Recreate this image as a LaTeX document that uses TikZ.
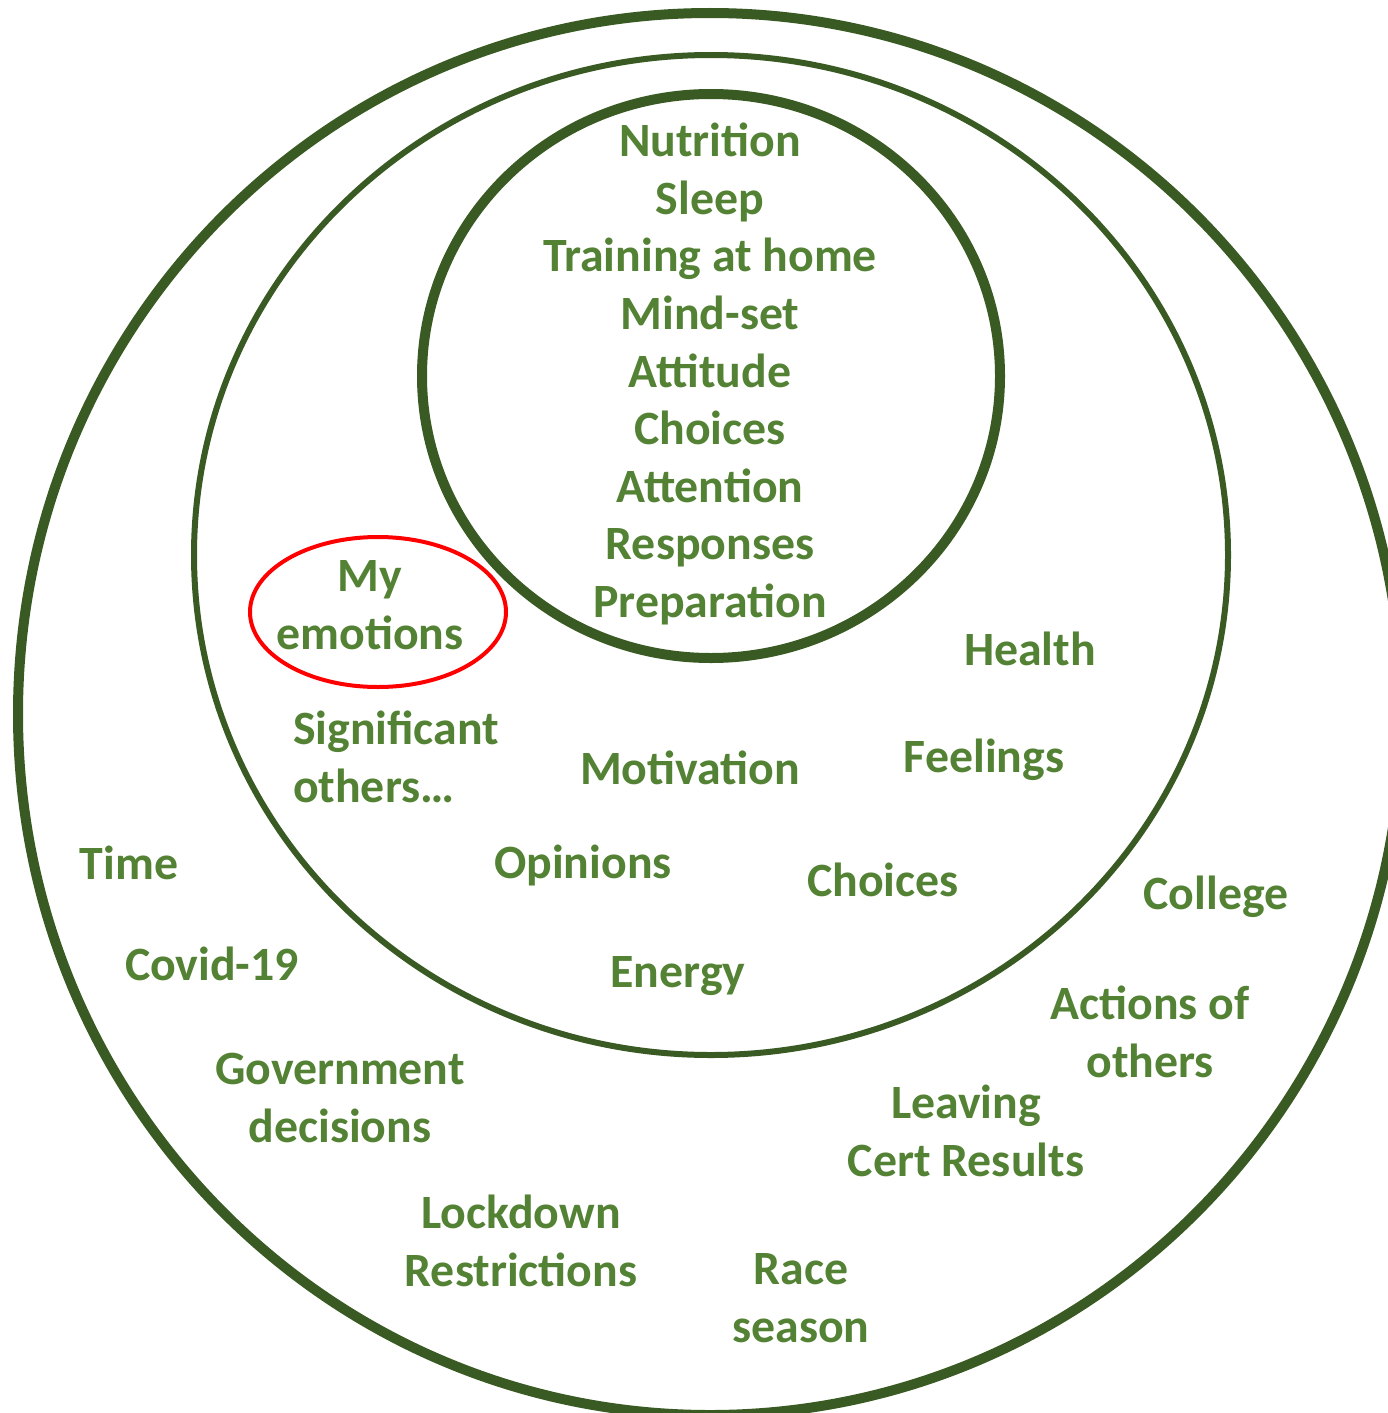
\documentclass[tikz,border=0pt]{standalone}
\usepackage{fontspec}
\setmainfont{Carlito}
\definecolor{ringgreen}{HTML}{3A5A23}
\definecolor{labelgreen}{HTML}{548235}
\definecolor{markred}{HTML}{FF0000}
\begin{document}
\begin{tikzpicture}[x=1pt,y=-1pt,
  ring/.style={draw=ringgreen},
  lbl/.style={text=labelgreen,font=\fontsize{47.8}{57.6}\selectfont\bfseries,align=center,inner sep=0pt},
  lbll/.style={lbl,align=left}]
\useasboundingbox (0,0) rectangle (1388,1413);
\fill[white] (0,0) rectangle (1388,1413);

% rings of control
\draw[ring,line width=10pt] (710,714) ellipse [x radius=692,y radius=701];
\draw[ring,line width=6pt] (711,555) ellipse [x radius=517,y radius=500];
\draw[ring,line width=10pt] (711,376) ellipse [x radius=289,y radius=282];
\draw[markred,line width=4pt] (378,612) ellipse [x radius=128,y radius=75];

% inner circle
\node[lbl] (inner) at (710,374) {Nutrition\\Sleep\\Training at home\\Mind-set\\Attitude\\Choices\\Attention\\Responses\\Preparation};

% middle ring
\node[lbl] (emo) at (370,605) {My\\emotions};
\node[lbll] (sig) at (396,757) {Significant\\others\ldots};
\node[lbl] (health) at (1030,649) {Health};
\node[lbl] (motiv) at (690,768) {Motivation};
\node[lbl] (feel) at (984,760) {Feelings};
\node[lbl] (opin) at (583,865) {Opinions};
\node[lbl] (choices2) at (883,880) {Choices};
\node[lbl] (energy) at (678,976) {Energy};

% outer ring
\node[lbl] (time) at (129,863) {Time};
\node[lbl] (covid) at (212,964) {Covid-19};
\node[lbl] (college) at (1216,897) {College};
\node[lbl] (actions) at (1150,1032) {Actions of\\others};
\node[lbl] (gov) at (340,1098) {Government\\decisions};
\node[lbl] (lc) at (966,1131) {Leaving\\Cert Results};
\node[lbl] (lock) at (521,1241) {Lockdown\\Restrictions};
\node[lbl] (race) at (801,1298) {Race\\season};
\end{tikzpicture}
\end{document}
